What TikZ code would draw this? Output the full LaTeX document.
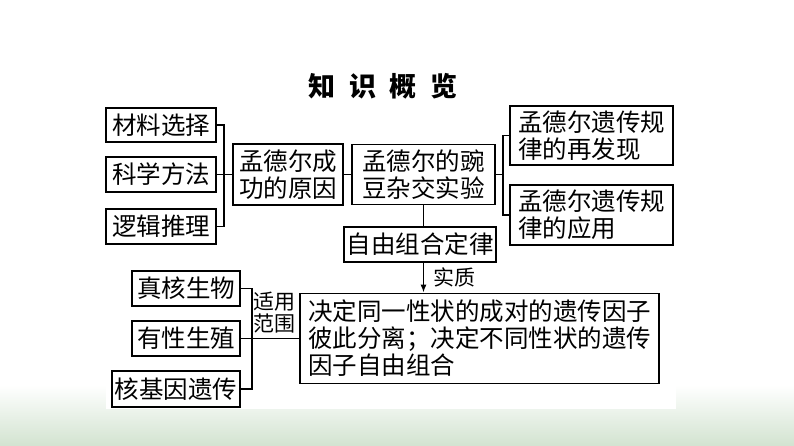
\documentclass[tikz,border=0pt]{standalone}
\usepackage{fontspec}
\usepackage{xcolor}
\usepackage{tikz}
\usetikzlibrary{arrows.meta}
\newfontfamily\cjk{Noto Sans CJK SC}
\definecolor{bandgreen}{RGB}{210,227,208}

\begin{document}
\begin{tikzpicture}[x=1pt, y=-1pt,
        box/.style={draw, line width=1.6pt, inner sep=0pt, align=left,
            font=\cjk\fontsize{24.5}{27}\selectfont},
        link/.style={line width=1.6pt},
        small/.style={inner sep=0pt, font=\cjk\fontsize{21}{22}\selectfont}]
        \useasboundingbox (0,0) rectangle (794,446);
        \fill[white] (0,0) rectangle (794,446);
        \shade[top color=white, bottom color=bandgreen] (0,385) rectangle (794,446);
        \fill[white] (106,0) rectangle (676,409);

        \node[font=\cjk\bfseries\fontsize{27}{30}\selectfont] (title) at (383,86) {知\enspace 识\enspace 概\enspace 览};

        \node[box, minimum width=110, minimum height=34] (cl) at (161,125) {材料选择};
        \node[box, minimum width=110, minimum height=35] (ck) at (161,174.5) {科学方法};
        \node[box, minimum width=110, minimum height=35] (ct) at (161,226.5) {逻辑推理};
        \node[box, minimum width=110, minimum height=61] (reason) at (288,174.5) {孟德尔成\\功的原因};
        \node[box, minimum width=143, minimum height=60] (exp) at (423.5,174.5) {孟德尔的豌\\豆杂交实验};
        \node[box, minimum width=163, minimum height=59] (redis) at (591.5,135.5) {孟德尔遗传规\\律的再发现};
        \node[box, minimum width=163, minimum height=60] (apply) at (591.5,215) {孟德尔遗传规\\律的应用};
        \node[box, minimum width=152, minimum height=35] (law) at (420,244.5) {自由组合定律};
        \node[box, minimum width=359, minimum height=90] (essence) at (479.5,338.5) {决定同一性状的成对的遗传因子\\彼此分离；决定不同性状的遗传\\因子自由组合};
        \node[box, minimum width=108, minimum height=35] (eu) at (186,288.5) {真核生物};
        \node[box, minimum width=108, minimum height=35] (sex) at (186,338.5) {有性生殖};
        \node[box, minimum width=128, minimum height=36] (nuc) at (176,389) {核基因遗传};
        \node[small, align=center] (scope) at (274,312.5) {适用\\范围};

        \coordinate (lj) at (224,174.5);
        \coordinate (rj) at (503,174.5);
        \coordinate (bj) at (252,338.5);

        \draw[link] (cl.east) -| (lj) |- (ct.east);
        \draw[link] (ck.east) -- (reason.west);
        \draw[link] (reason.east) -- (exp.west);
        \draw[link] (redis.west) -| (rj) |- (apply.west);
        \draw[link] (exp.east) -- (rj);
        \draw[link] (exp.south) -- (exp.south |- law.north);
        \draw[link, -{Latex[length=8pt, width=6pt]}] (exp.south |- law.south) -- (exp.south |- essence.north)
            node[small, midway, right=9pt] (zhi) {实质};
        \draw[link] (eu.east) -| (bj) |- (nuc.east);
        \draw[link] (sex.east) -- (essence.west);
    \end{tikzpicture}
\end{document}
